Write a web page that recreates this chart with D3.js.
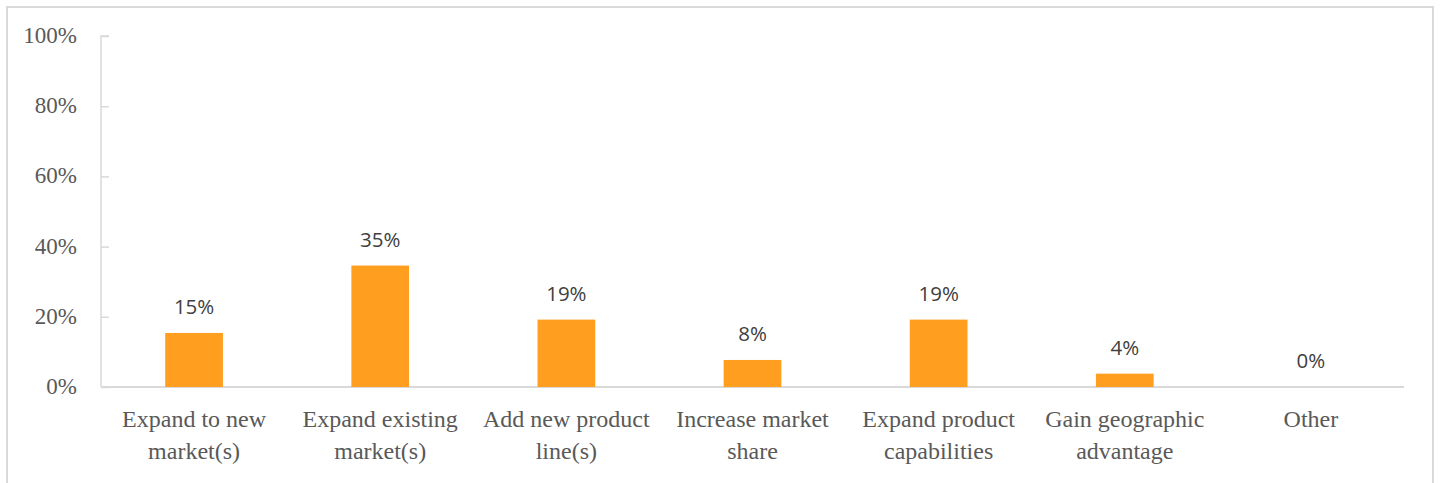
<!DOCTYPE html>
<html>
<head>
<meta charset="utf-8">
<script src="https://cdn.jsdelivr.net/npm/d3@7"></script>
<style>
  html, body { margin: 0; padding: 0; background: #fff; }
  svg { display: block; }
</style>
</head>
<body>
<svg id="chart" width="1440" height="483"></svg>
<script>
// Share of respondents by acquisition objective
const categories = [
  ["Expand to new", "market(s)"],
  ["Expand existing", "market(s)"],
  ["Add new product", "line(s)"],
  ["Increase market", "share"],
  ["Expand product", "capabilities"],
  ["Gain geographic", "advantage"],
  ["Other"]
];
const values = [0.154, 0.346, 0.192, 0.077, 0.192, 0.038, 0.0];
const yTicks = [0, 0.2, 0.4, 0.6, 0.8, 1.0];

const svg = d3.select("#chart");
const plot = { left: 101, right: 1404, top: 36, bottom: 387 };

// Outer frame
svg.append("rect")
  .attr("x", 7).attr("y", 7)
  .attr("width", 1426).attr("height", 500)
  .attr("fill", "none")
  .attr("stroke", "#d9d9d9")
  .attr("stroke-width", 2);

const x = d3.scaleBand()
  .domain(d3.range(categories.length))
  .range([plot.left, plot.right]);

const y = d3.scaleLinear()
  .domain([0, 1])
  .range([plot.bottom, plot.top]);

const barW = x.bandwidth() * 0.31;

// Y axis: ticks point inward
const yAxis = svg.append("g")
  .attr("transform", `translate(${plot.left},0)`)
  .call(d3.axisRight(y).tickValues(yTicks).tickSize(8).tickFormat(""));
yAxis.selectAll("path, line").attr("stroke", "#d9d9d9").attr("stroke-width", 1.5);
yAxis.select(".domain").attr("d", `M8,${plot.top}H0V${plot.bottom}`);

svg.append("g")
  .selectAll("text")
  .data(yTicks)
  .join("text")
  .attr("x", 77)
  .attr("y", d => y(d))
  .attr("dy", "0.3em")
  .attr("text-anchor", "end")
  .attr("font-family", "'Liberation Serif', serif")
  .attr("font-size", 23)
  .attr("fill", "#595959")
  .text(d3.format(".0%"));

// X axis baseline
svg.append("line")
  .attr("x1", plot.left).attr("x2", plot.right)
  .attr("y1", y(0)).attr("y2", y(0))
  .attr("stroke", "#d9d9d9")
  .attr("stroke-width", 2);

// Bars
svg.append("g")
  .selectAll("rect")
  .data(values)
  .join("rect")
  .attr("x", (d, i) => x(i) + (x.bandwidth() - barW) / 2)
  .attr("y", d => y(d))
  .attr("width", barW)
  .attr("height", d => y(0) - y(d))
  .attr("fill", "#ff9e1f");

// Value labels
svg.append("g")
  .selectAll("text")
  .data(values)
  .join("text")
  .attr("x", (d, i) => x(i) + x.bandwidth() / 2)
  .attr("y", d => y(d) - 19)
  .attr("text-anchor", "middle")
  .attr("font-family", "'Open Sans', sans-serif")
  .attr("font-size", 20.5)
  .attr("fill", "#404040")
  .text(d3.format(".0%"));

// Category labels
const cat = svg.append("g")
  .selectAll("text")
  .data(categories)
  .join("text")
  .attr("x", (d, i) => x(i) + x.bandwidth() / 2)
  .attr("y", 427)
  .attr("text-anchor", "middle")
  .attr("font-family", "'Liberation Serif', serif")
  .attr("font-size", 24)
  .attr("fill", "#595959");
cat.selectAll("tspan")
  .data(d => d)
  .join("tspan")
  .attr("x", function () { return d3.select(this.parentNode).attr("x"); })
  .attr("dy", (d, i) => i === 0 ? 0 : 32)
  .text(d => d);
</script>
</body>
</html>
